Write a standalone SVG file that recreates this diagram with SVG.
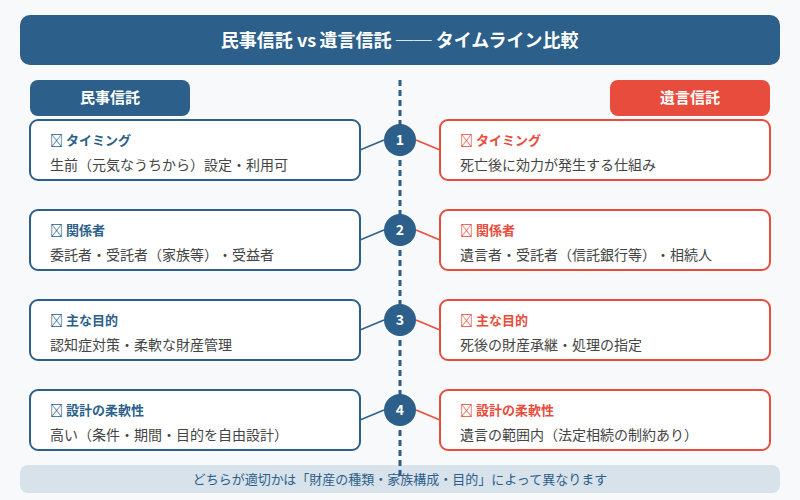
<svg xmlns="http://www.w3.org/2000/svg" width="800" height="500" viewBox="0 0 800 500">
<style>
text{font-family:"Noto Sans CJK JP","Noto Sans",sans-serif;text-spacing-trim:space-all}
.m{text-anchor:middle}
.card{fill:#fff;stroke-width:2}
.l .card{stroke:#2c5f8a}.r .card{stroke:#e74c3c}
.h{font-size:13px;font-weight:700}
.l .h{fill:#2c5f8a}.r .h{fill:#e74c3c}
.b{font-size:14px;fill:#444}
.c{fill:#2c5f8a}
.n{font-size:14px;font-weight:700;fill:#fff;text-anchor:middle}
.cl{stroke-width:1.5;fill:none}
</style>
<rect width="800" height="500" fill="#f8f9fb"/>
<g id="title"><rect x="20" y="15" width="760" height="50" rx="10" fill="#2c5f8a"/><text class="m" x="399.65" y="47" font-size="18" font-weight="700" fill="#fff">民事信託 vs <tspan dx="-0.7">遺言信託 ── タイムライン比較</tspan></text></g>
<g id="head-left"><rect x="30" y="80" width="160" height="36" rx="8" fill="#2c5f8a"/><text class="m" x="110" y="103" font-size="15" font-weight="700" fill="#fff">民事信託</text></g>
<g id="head-right"><rect x="610" y="80" width="160" height="36" rx="8" fill="#e74c3c"/><text class="m" x="690" y="103" font-size="15" font-weight="700" fill="#fff">遺言信託</text></g>
<g id="footer"><rect x="20" y="465" width="760" height="28" rx="8" fill="#d8e2ea"/><text class="m" x="400" y="484" font-size="13" fill="#2c5f8a">どちらが適切かは「財産の種類・家族構成・目的」によって異なります</text></g>
<g id="connectors">
<line x1="400" y1="80" x2="400" y2="476" stroke="#2c5f8a" stroke-width="3" stroke-dasharray="6 4"/>
<g class="cl" stroke="#2c5f8a"><line x1="360" y1="150" x2="384" y2="140"/><line x1="360" y1="240" x2="384" y2="230"/><line x1="360" y1="330" x2="384" y2="320"/><line x1="360" y1="420" x2="384" y2="410"/></g>
<g class="cl" stroke="#e74c3c"><line x1="416" y1="140" x2="440" y2="150"/><line x1="416" y1="230" x2="440" y2="240"/><line x1="416" y1="320" x2="440" y2="330"/><line x1="416" y1="410" x2="440" y2="420"/></g>
</g>
<g id="l1" class="l"><rect class="card" x="30" y="120" width="330" height="60" rx="8"/><text class="h" x="50" y="145">&#xE000; タイミング</text><text class="b" x="50" y="170">生前（元気なうちから）設定・利用可</text></g>
<g id="l2" class="l"><rect class="card" x="30" y="210" width="330" height="60" rx="8"/><text class="h" x="50" y="235">&#xE000; 関係者</text><text class="b" x="50" y="260">委託者・受託者（家族等）・受益者</text></g>
<g id="l3" class="l"><rect class="card" x="30" y="300" width="330" height="60" rx="8"/><text class="h" x="50" y="325">&#xE000; 主な目的</text><text class="b" x="50" y="350">認知症対策・柔軟な財産管理</text></g>
<g id="l4" class="l"><rect class="card" x="30" y="390" width="330" height="60" rx="8"/><text class="h" x="50" y="415">&#xE000; 設計の柔軟性</text><text class="b" x="50" y="440">高い（条件・期間・目的を自由設計）</text></g>
<g id="r1" class="r"><rect class="card" x="440" y="120" width="330" height="60" rx="8"/><text class="h" x="460" y="145">&#xE000; タイミング</text><text class="b" x="460" y="170">死亡後に効力が発生する仕組み</text></g>
<g id="r2" class="r"><rect class="card" x="440" y="210" width="330" height="60" rx="8"/><text class="h" x="460" y="235">&#xE000; 関係者</text><text class="b" x="460" y="260">遺言者・受託者（信託銀行等）・相続人</text></g>
<g id="r3" class="r"><rect class="card" x="440" y="300" width="330" height="60" rx="8"/><text class="h" x="460" y="325">&#xE000; 主な目的</text><text class="b" x="460" y="350">死後の財産承継・処理の指定</text></g>
<g id="r4" class="r"><rect class="card" x="440" y="390" width="330" height="60" rx="8"/><text class="h" x="460" y="415">&#xE000; 設計の柔軟性</text><text class="b" x="460" y="440">遺言の範囲内（法定相続の制約あり）</text></g>
<g id="n1"><circle class="c" cx="400" cy="140" r="16"/><text class="n" x="400" y="145">1</text></g>
<g id="n2"><circle class="c" cx="400" cy="230" r="16"/><text class="n" x="400" y="235">2</text></g>
<g id="n3"><circle class="c" cx="400" cy="320" r="16"/><text class="n" x="400" y="325">3</text></g>
<g id="n4"><circle class="c" cx="400" cy="410" r="16"/><text class="n" x="400" y="415">4</text></g>
</svg>
